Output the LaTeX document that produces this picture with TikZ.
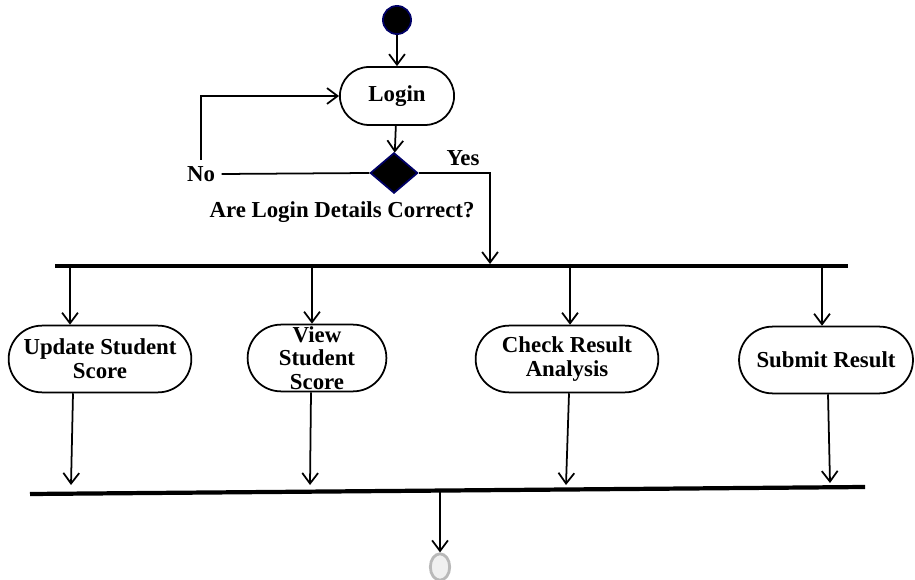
\documentclass[tikz,border=0pt]{standalone}
\usepackage{fontspec}
\setmainfont{Liberation Serif}
\usetikzlibrary{arrows.meta,shapes.geometric,shapes.misc}

\begin{document}
\begin{tikzpicture}[x=0.02cm, y=-0.02cm, line width=1pt, >={Straight Barb[length=6pt,width=9pt]},
    font=\fontsize{13}{13.5}\selectfont\bfseries,
    act/.style={rounded rectangle, draw, align=center, minimum height=38pt, inner sep=2pt}]
        \useasboundingbox (0,0) rectangle (915,580);

        % start, login and decision
        \node[circle, fill=black, draw=black!60!blue, minimum size=16pt, inner sep=0pt] (start) at (397,20) {};
        \node[act, minimum width=69pt, minimum height=33pt] (login) at (397,96) {Login};
        \node[diamond, fill=black, draw=black!60!blue, minimum width=27pt, minimum height=23pt, inner sep=0pt] (dec) at (394,173) {};
        \node (no) at (201,174) {No};
        \node (yes) at (463,158) {Yes};
        \node (ques) at (342,212) {Are Login Details Correct?};

        \draw[->] (start) -- (login);
        \draw[->] (login) -- (dec);
        \draw (dec.west) -- (no.east);
        \draw[->] (no.north) |- (login.west);
        \coordinate (fy) at (490,264);
        \draw[->] (dec.east) -| (fy);

        % fork bar
        \coordinate (forkL) at (55,266);
        \coordinate (forkR) at (848,266);
        \draw[line width=2.4pt] (forkL) -- (forkR);

        % activities
        \node[act, minimum width=108pt] (upd) at (100,359) {Update Student\\Score};
        \node[act, minimum width=83pt, label={[align=center, font=\fontsize{13}{13.5}\selectfont\bfseries]center:View\\Student\\Score}] (view) at (317,358) {};
        \node[act, minimum width=108pt] (chk) at (567,359) {Check Result\\Analysis};
        \node[act, minimum width=103pt] (sub) at (826,360) {Submit Result};

        \foreach \n/\x in {upd/70, view/312, chk/570, sub/822}
            \draw[->] (\x,266) -- (\n.north -| \x,0);

        % join bar
        \coordinate (joinL) at (30,494);
        \coordinate (joinR) at (865,487);
        \draw[line width=2.4pt] (joinL) -- (joinR);

        \coordinate (j1) at (71,485);
        \coordinate (j2) at (310,485);
        \coordinate (j3) at (566,485);
        \coordinate (j4) at (830,483);
        \draw[->] (upd.south -| 73,0) -- (j1);
        \draw[->] (view.south -| 311,0) -- (j2);
        \draw[->] (chk.south -| 569,0) -- (j3);
        \draw[->] (sub.south -| 828,0) -- (j4);

        % final node
        \node[ellipse, draw=gray!55, fill=gray!12, line width=1.6pt, minimum width=11pt, minimum height=15pt, inner sep=0pt] (final) at (440,567) {};
        \coordinate (jm) at (440,491);
        \draw[->] (jm) -- (final);
    \end{tikzpicture}
\end{document}
